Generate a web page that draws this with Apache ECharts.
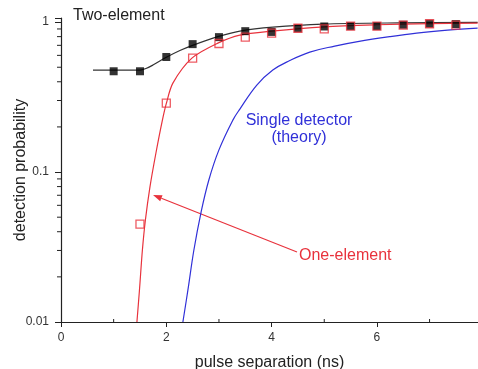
<!DOCTYPE html>
<html>
<head>
<meta charset="utf-8">
<script src="https://cdn.jsdelivr.net/npm/echarts@6/dist/echarts.min.js"></script>
<style>
html,body{margin:0;padding:0;background:#fff;}
#chart{width:478px;height:369px;}
</style>
</head>
<body>
<div id="chart"></div>
<script>
// ---- data ----
const twoElemX = [1, 1.5, 2, 2.5, 3, 3.5, 4, 4.5, 5, 5.5, 6, 6.5, 7, 7.5];
const twoElemY = [0.47, 0.47, 0.585, 0.713, 0.794, 0.87, 0.86, 0.91, 0.935, 0.94, 0.94, 0.96, 0.975, 0.97];

const oneElemX = [1.5, 2, 2.5, 3, 3.5, 4, 4.5, 5, 5.5, 6, 6.5, 7, 7.5];
const oneElemY = [0.045, 0.288, 0.575, 0.72, 0.794, 0.843, 0.91, 0.90, 0.94, 0.94, 0.955, 0.975, 0.955];

const twoFitX = [0.607, 1.2, 1.499, 1.613, 1.746, 1.992, 2.258, 2.486, 2.979, 3.397, 4.023, 4.972, 6.433, 7.913];
const twoFitY = [0.479, 0.479, 0.479, 0.49, 0.517, 0.58, 0.646, 0.697, 0.80, 0.871, 0.926, 0.97, 0.988, 0.995];

const oneFitX = [1.442, 1.490, 1.546, 1.603, 1.689, 1.803, 1.926, 2.002, 2.125, 2.486, 2.979, 3.397, 4.004, 5.0, 6.0, 7.0, 7.913];
const oneFitY = [0.01, 0.0163, 0.0302, 0.0479, 0.0794, 0.134, 0.222, 0.288, 0.392, 0.575, 0.724, 0.819, 0.871, 0.93, 0.96, 0.978, 0.985];

const theoryX = [2.315, 2.410, 2.524, 2.657, 2.808, 2.998, 3.264, 3.397, 3.719, 4.023, 4.345, 4.725, 5.199, 5.636, 6.243, 6.755, 7.343, 7.913];
const theoryY = [0.01, 0.0163, 0.0302, 0.0533, 0.0885, 0.140, 0.222, 0.263, 0.380, 0.479, 0.554, 0.631, 0.692, 0.741, 0.80, 0.845, 0.884, 0.912];

const xMajorTicks = [0, 2, 4, 6];
const xMinorTicks = [1, 3, 5, 7];
const yMinorTicks = [0.02, 0.03, 0.04, 0.05, 0.06, 0.07, 0.08, 0.09, 0.2, 0.3, 0.4, 0.5, 0.6, 0.7, 0.8, 0.9];

const zip = (xs, ys) => xs.map((x, i) => [x, ys[i]]);

const chart = echarts.init(document.getElementById('chart'));

const FONT = 'Liberation Sans, Arial, sans-serif';
const RED = '#e8323c';
const BLUE = '#3030d8';

// arrow geometry (annotation)
const ax0 = 297, ay0 = 252, ax1 = 153, ay1 = 195;
const ang = Math.atan2(ay1 - ay0, ax1 - ax0);
const hl = 9, hw = 3.2;
const bx = ax1 - hl * Math.cos(ang), by = ay1 - hl * Math.sin(ang);
const head = [
  [ax1, ay1],
  [bx + hw * Math.sin(ang), by - hw * Math.cos(ang)],
  [bx - hw * Math.sin(ang), by + hw * Math.cos(ang)]
];

const option = {
  animation: false,
  backgroundColor: '#fff',
  grid: { left: 61, right: 0, top: 18, bottom: 47, containLabel: false, outerBoundsMode: 'none' },
  xAxis: {
    type: 'value', min: 0, max: 7.92, interval: 2,
    axisLine: { lineStyle: { color: '#222', width: 1.2 } },
    axisTick: { show: true, length: 5, lineStyle: { color: '#222' } },
    axisLabel: {
      color: '#333', fontSize: 12, fontFamily: FONT, margin: 10,
      showMaxLabel: false,
      formatter: v => (xMajorTicks.indexOf(v) >= 0 ? String(v) : '')
    },
    splitLine: { show: false },
    name: 'pulse separation (ns)', nameLocation: 'middle', nameGap: 33, nameMoveOverlap: false,
    nameTextStyle: { color: '#222', fontSize: 16, fontFamily: FONT }
  },
  yAxis: {
    type: 'log', logBase: 10, min: 0.01, max: 1.065,
    axisLine: { show: true, lineStyle: { color: '#222', width: 1.2 } },
    axisTick: { show: true, length: 6, lineStyle: { color: '#222' } },
    axisLabel: {
      color: '#333', fontSize: 12, fontFamily: FONT, margin: 12,
      formatter: v => {
        if (Math.abs(v - 1) < 1e-9) return '1';
        if (Math.abs(v - 0.1) < 1e-9) return '0.1';
        if (Math.abs(v - 0.01) < 1e-9) return '0.01';
        return '';
      }
    },
    splitLine: { show: false },
    name: 'detection probability', nameLocation: 'middle', nameGap: 32, nameMoveOverlap: false,
    nameTextStyle: { color: '#222', fontSize: 16, fontFamily: FONT }
  },
  series: [
    {
      type: 'line', data: zip(twoFitX, twoFitY), showSymbol: false,
      smooth: 0.3,
      lineStyle: { color: '#333', width: 1.2 }, z: 2
    },
    {
      type: 'line', data: zip(oneFitX, oneFitY), showSymbol: false,
      smooth: 0.3,
      lineStyle: { color: RED, width: 1.2 }, z: 2
    },
    {
      type: 'line', data: zip(theoryX, theoryY), showSymbol: false,
      smooth: 0.4,
      lineStyle: { color: BLUE, width: 1.2 }, z: 2
    },
    {
      type: 'scatter', data: zip(twoElemX, twoElemY), symbol: 'rect', symbolSize: 8,
      itemStyle: { color: '#000' }, z: 3
    },
    {
      type: 'scatter', data: zip(oneElemX, oneElemY), symbol: 'rect', symbolSize: 8,
      itemStyle: { color: 'rgba(0,0,0,0)', borderColor: RED, borderWidth: 1.3 }, z: 4
    },
    {
      type: 'custom', data: yMinorTicks.map(v => [0, v]), clip: false, silent: true, z: 5,
      renderItem: (params, api) => {
        const p = api.coord([api.value(0), api.value(1)]);
        return { type: 'line', shape: { x1: p[0] - 4, y1: p[1], x2: p[0], y2: p[1] },
          style: { stroke: '#222', lineWidth: 1 } };
      }
    },
    {
      type: 'custom', data: xMinorTicks.map(v => [v, 0.01]), clip: false, silent: true, z: 5,
      renderItem: (params, api) => {
        const p = api.coord([api.value(0), api.value(1)]);
        return { type: 'line', shape: { x1: p[0], y1: p[1], x2: p[0], y2: p[1] - 3 },
          style: { stroke: '#222', lineWidth: 1 } };
      }
    }
  ],
  graphic: [
    { type: 'text', left: 73, top: 8, style: { text: 'Two-element', fill: '#222', font: '16px ' + FONT } },
    { type: 'text', x: 299, y: 112, style: { text: 'Single detector\n(theory)', fill: BLUE, font: '16px ' + FONT, align: 'center', lineHeight: 17 } },
    { type: 'text', x: 299, y: 248, style: { text: 'One-element', fill: RED, font: '16px ' + FONT } },
    { type: 'line', shape: { x1: ax0, y1: ay0, x2: bx, y2: by }, style: { stroke: RED, lineWidth: 1.2 } },
    { type: 'polygon', shape: { points: head }, style: { fill: RED } }
  ]
};

chart.setOption(option);
</script>
</body>
</html>
